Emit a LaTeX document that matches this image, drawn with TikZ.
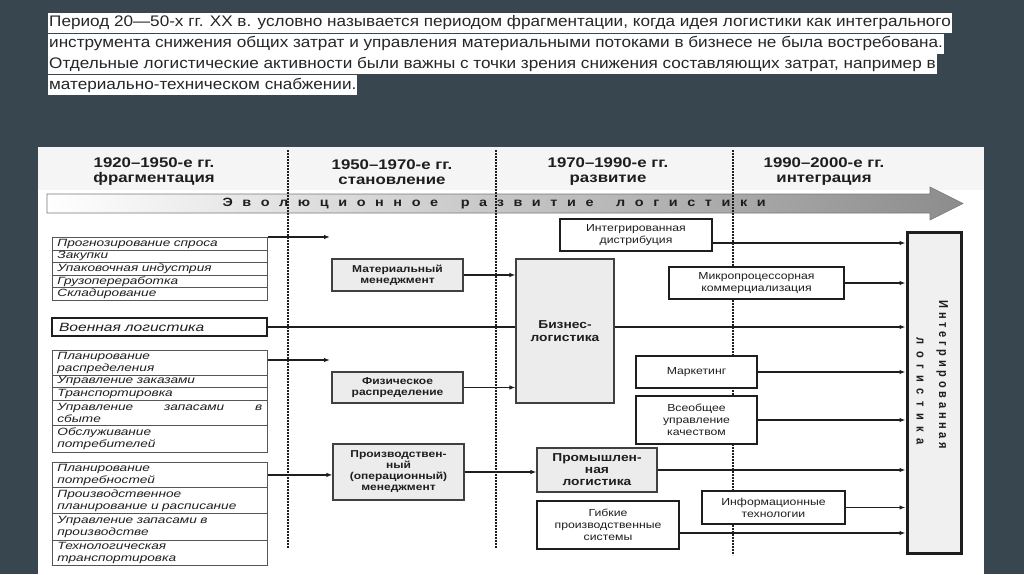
\documentclass[tikz,border=0pt]{standalone}
\usepackage{fontspec}
\setmainfont{Liberation Sans}
\newfontfamily\wf[FakeStretch=1.2]{Liberation Sans}
\newfontfamily\wl[FakeStretch=1.3]{Liberation Sans}
\newfontfamily\wt[FakeStretch=1.12]{Liberation Sans}
\newfontfamily\cf[FakeStretch=0.85]{Liberation Sans}
\usetikzlibrary{arrows.meta,calc}
\definecolor{bgdark}{HTML}{37464F}
\definecolor{ink}{HTML}{1E1E1E}
\definecolor{boxgray}{HTML}{ECECEC}
\newcommand\spcd[2]{\def\lsgap{#1}\lsstep#2\relax}
\def\lsstep#1{\ifx#1\relax\else#1\hspace{\lsgap}\expandafter\lsstep\fi}
\tikzset{
  arr/.style={-{Latex[length=6pt,width=4.5pt]}, line width=1.3pt, draw=ink},
  ln/.style={line width=1.3pt, draw=ink},
  listrow/.style={draw=ink!75, line width=0.8pt, fill=white, anchor=north west,
    minimum width=215pt, text width=205pt, inner xsep=5pt, inner ysep=0pt,
    align=left, font=\wl\itshape\fontsize{10.5}{11.8}\selectfont, text=ink},
  graybox/.style={draw=ink!85, line width=1.1pt, fill=boxgray, align=center,
    inner sep=0pt, font=\wf\bfseries\fontsize{10}{11}\selectfont, text=ink},
  whitebox/.style={draw=ink, line width=2pt, fill=white, align=center,
    inner sep=0pt, font=\wf\fontsize{10.2}{12}\selectfont, text=ink},
  hdr/.style={font=\wf\bfseries\fontsize{14}{15}\selectfont, text=ink, align=center},
  dotl/.style={line width=1.8pt, dash pattern=on 1.6pt off 1.4pt, draw=ink},
  topline/.style={fill=white, anchor=west, inner xsep=1pt, inner ysep=0pt,
    minimum height=20pt, font=\wt\fontsize{15.3}{16}\selectfont, text=black!85},
  vtext/.style={rotate=-90, font=\cf\bfseries\fontsize{13}{14}\selectfont, text=ink},
}
\begin{document}
\begin{tikzpicture}[x=1pt,y=-1pt]
\useasboundingbox (0,0) rectangle (1024,574);
\fill[bgdark] (0,0) rectangle (1024,574);
% top text
\node[topline] (t1) at (48,23) {Период 20—50-х гг. ХХ в. условно называется периодом фрагментации, когда идея логистики как интегрального};
\node[topline] (t2) at (48,43.5) {инструмента снижения общих затрат и управления материальными потоками в бизнесе не была востребована.};
\node[topline] (t3) at (48,64) {Отдельные логистические активности были важны с точки зрения снижения составляющих затрат, например в};
\node[topline] (t4) at (48,85) {материально-техническом снабжении.};
% panel
\fill[white] (38,147) rectangle (984,574);
\fill[black!4] (38,147) rectangle (984,190);
% headers
\node[hdr] (h1) at (154,172) {1920–1950-е гг.\\фрагментация};
\node[hdr] (h2) at (392,172) {1950–1970-е гг.\\становление};
\node[hdr] (h3) at (608,172) {1970–1990-е гг.\\развитие};
\node[hdr] (h4) at (824,172) {1990–2000-е гг.\\интеграция};
% evolution arrow band
\shade[left color=white, right color=black!45, draw=ink!60, line width=0.6pt]
  (47,194) -- (930,194) -- (930,187) -- (963,203.5) -- (930,220) -- (930,213) -- (47,213) -- cycle;
\node[font=\wf\bfseries\fontsize{12}{13}\selectfont, text=ink, anchor=west] (evo) at (219,203.5)
  {\spcd{9.6pt}{Эволюционное}\hspace{13pt}\spcd{9.6pt}{развитие}\hspace{13pt}\spcd{9.6pt}{логистики}};
% dotted separators
\draw[dotl] (288,150) -- (288,548);
\draw[dotl] (496,150) -- (496,548);
\draw[dotl] (733,150) -- (733,555);
% group 1
\node[listrow, minimum height=12.6pt] (g1a) at (52,237) {Прогнозирование спроса};
\node[listrow, minimum height=12.6pt] (g1b) at (52,249.6) {Закупки};
\node[listrow, minimum height=12.6pt] (g1c) at (52,262.2) {Упаковочная индустрия};
\node[listrow, minimum height=12.6pt] (g1d) at (52,274.8) {Грузопереработка};
\node[listrow, minimum height=12.6pt] (g1e) at (52,287.4) {Складирование};
% military
\node[draw=ink, line width=2.6pt, fill=white, minimum width=215pt, minimum height=18pt,
  inner xsep=7pt, text width=201pt, align=left, font=\wl\itshape\fontsize{12}{13}\selectfont, text=ink]
  (mil) at (159.5,327) {Военная логистика};
% group 2
\node[listrow, minimum height=25pt] (g2a) at (52,350) {Планирование\\распределения};
\node[listrow, minimum height=12pt] (g2b) at (52,375) {Управление заказами};
\node[listrow, minimum height=13pt] (g2c) at (52,387) {Транспортировка};
\node[listrow, minimum height=25pt] (g2d) at (52,400) {Управление\hfill запасами\hfill в\\сбыте};
\node[listrow, minimum height=27pt] (g2e) at (52,425) {Обслуживание\\потребителей};
% group 3
\node[listrow, minimum height=25pt] (g3a) at (52,462) {Планирование\\потребностей};
\node[listrow, minimum height=26pt] (g3b) at (52,487) {Производственное\\планирование и расписание};
\node[listrow, minimum height=27pt] (g3c) at (52,513) {Управление запасами в\\производстве};
\node[listrow, minimum height=25pt] (g3d) at (52,540) {Технологическая\\транспортировка};
% middle boxes
\node[graybox, minimum width=131pt, minimum height=32pt] (mat) at (397.5,275) {Материальный\\менеджмент};
\node[graybox, minimum width=131pt, minimum height=31pt] (phys) at (397.5,387.5) {Физическое\\распределение};
\node[graybox, minimum width=131pt, minimum height=56pt] (prod) at (398.5,472) {Производствен-\\ный\\(операционный)\\менеджмент};
\node[graybox, minimum width=98pt, minimum height=144pt, font=\wf\bfseries\fontsize{11.5}{13}\selectfont] (biz) at (565,331) {Бизнес-\\логистика};
\node[graybox, minimum width=120pt, minimum height=44pt, font=\wf\bfseries\fontsize{11.5}{12}\selectfont] (ind) at (597,470) {Промышлен-\\ная\\логистика};
% white boxes
\node[whitebox, minimum width=152pt, minimum height=32pt] (intd) at (636,235) {Интегрированная\\дистрибуция};
\node[whitebox, minimum width=175pt, minimum height=32pt] (micro) at (756.5,283) {Микропроцессорная\\коммерциализация};
\node[whitebox, minimum width=121pt, minimum height=32pt] (mark) at (696.5,372) {Маркетинг};
\node[whitebox, minimum width=121pt, minimum height=48pt] (tqm) at (696.5,420) {Всеобщее\\управление\\качеством};
\node[whitebox, minimum width=142pt, minimum height=48pt] (flex) at (608,525) {Гибкие\\производственные\\системы};
\node[whitebox, minimum width=143pt, minimum height=33pt] (info) at (773.5,507.5) {Информационные\\технологии};
% integrated logistics
\node[draw=ink, line width=3pt, fill=black!6, minimum width=54pt, minimum height=321pt, inner sep=0pt] (integ) at (934,392.5) {};
\node[vtext, anchor=south west] (il1) at (933,297) {\spcd{3.7pt}{Интегрированная}};
\node[vtext, anchor=south west] (il2) at (913,334) {\spcd{6.5pt}{логистика}};
% connectors left
\coordinate (e1) at (330,237);
\coordinate (e2) at (330,360);
\draw[arr] (g1a.north east) -- (e1);
\draw[arr] (g2a.east |- e2) -- (e2);
\draw[arr] (g3a.east) -- (g3a.east -| prod.west);
\draw[ln] (mil.east) -- (mil.east -| biz.west);
\draw[arr] (mat.east) -- (mat.east -| biz.west);
\draw[arr] (phys.east) -- (phys.east -| biz.west);
\draw[arr] (prod.east) -- (prod.east -| ind.west);
% connectors right
\draw[arr] ($(intd.east)+(0,8)$) -- ($(intd.east -| integ.west)+(0,8)$);
\draw[arr] (micro.east) -- (micro.east -| integ.west);
\draw[arr] (biz.east |- mil.east) -- (integ.west |- mil.east);
\draw[arr] (mark.east) -- (mark.east -| integ.west);
\draw[arr] (tqm.east) -- (tqm.east -| integ.west);
\draw[arr] (ind.east) -- (ind.east -| integ.west);
\draw[arr] (info.east) -- (info.east -| integ.west);
\draw[arr] ($(flex.east)+(0,8)$) -- ($(flex.east -| integ.west)+(0,8)$);
\end{tikzpicture}
\end{document}
